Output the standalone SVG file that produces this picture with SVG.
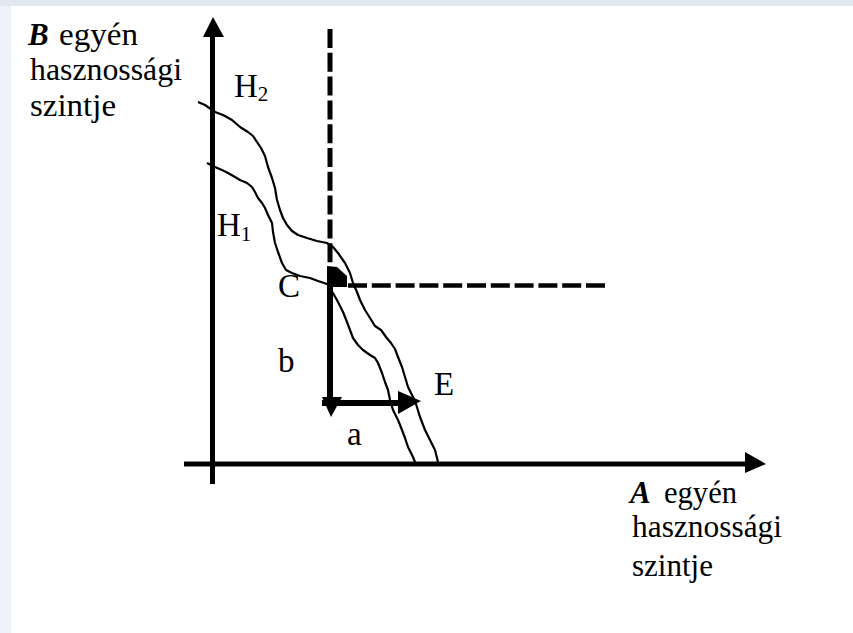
<svg xmlns="http://www.w3.org/2000/svg" width="853" height="633" viewBox="0 0 853 633">
<style>
.t{font-family:"Liberation Serif","Times New Roman",serif;font-size:31px;fill:#000}
.l{font-family:"Liberation Serif","Times New Roman",serif;font-size:33px;fill:#000}
.s{font-size:21px}
.bi{font-weight:bold;font-style:italic}
.ax{stroke:#000;stroke-width:5;fill:none}
.cv{stroke:#000;stroke-width:2.2;fill:none;stroke-linejoin:round}
.ds{stroke:#000;stroke-width:5;fill:none;stroke-dasharray:19 4.8}
.dh{stroke:#000;stroke-width:4.5;fill:none;stroke-dasharray:19 4.8}
.th{stroke:#000;stroke-width:6;fill:none}
.ah{fill:#000}
</style>
<rect x="0" y="0" width="853" height="633" fill="#eef2f8"/>
<rect x="0" y="0" width="853" height="6" fill="#e2e8f0"/>
<rect x="11" y="6" width="842" height="627" fill="#ffffff"/>

<g id="connectors">
  <line class="ax" x1="212.5" y1="484" x2="212.5" y2="34"/>
  <polygon class="ah" points="213,17 224,37 203,37"/>
  <line class="ax" x1="184" y1="464" x2="747" y2="464"/>
  <polygon class="ah" points="745,452 766,464 745,473"/>
  <line class="ds" x1="330" y1="29" x2="330" y2="268"/>
  <line class="dh" x1="348" y1="285.5" x2="608" y2="285.5"/>
  <line class="th" x1="330" y1="285" x2="330" y2="400"/>
  <polygon class="ah" points="327,266 337,267 347,276 347,287 327,287"/>
  <polygon class="ah" points="322,397 342,397 331,417"/>
  <line class="th" x1="322" y1="403" x2="400" y2="403"/>
  <polygon class="ah" points="398,391 421,401 398,414"/>
</g>

<g id="H2">
  <polyline class="cv" points="198,102 205,105 215,112 223,115 232,120 240,127 248,132 253,136 257,142 261,148 265,156 268,167 272,178 275,188 277,200 280,210 283,218 287,225 292,231 298,235 307,238 317,241 327,243 333,247 338,253 345,263 350,273 353,283 357,292 360,300 365,310 370,318 375,326 381,330 386,337 391,343 395,349 398,357 402,367 405,377 408,387 412,395 416,404 420,417 425,430 430,440 435,450 438,462"/>
  <text class="l" x="234" y="97">H<tspan class="s" dy="4">2</tspan></text>
</g>

<g id="H1">
  <polyline class="cv" points="207,163 215,167 222,170 228,173 235,177 240,180 247,183 252,187 255,192 258,198 262,203 265,208 268,215 272,223 273,232 275,243 278,252 282,263 286,270 292,273 300,276 310,278 318,281 327,284 333,293 338,302 343,312 347,322 350,330 353,338 358,345 363,350 370,355 375,358 378,363 382,373 385,382 388,390 390,400 393,410 398,420 402,430 405,438 408,447 413,457 415,462"/>
  <text class="l" x="217" y="236">H<tspan class="s" dy="5">1</tspan></text>
</g>

<g id="C"><text class="l" x="278" y="297">C</text></g>
<g id="b"><text class="l" x="278" y="372">b</text></g>
<g id="E"><text class="l" x="434" y="395">E</text></g>
<g id="a"><text class="l" x="347" y="445">a</text></g>

<g id="B-label">
  <text class="t" x="28" y="45"><tspan class="bi">B</tspan><tspan x="59" textLength="79" lengthAdjust="spacingAndGlyphs">egyén</tspan></text>
  <text class="t" x="30" y="80" textLength="152" lengthAdjust="spacingAndGlyphs">hasznossági</text>
  <text class="t" x="30" y="116" textLength="86" lengthAdjust="spacingAndGlyphs">szintje</text>
</g>

<g id="A-label">
  <text class="t" x="630" y="503"><tspan class="bi">A</tspan><tspan x="664" textLength="73" lengthAdjust="spacingAndGlyphs">egyén</tspan></text>
  <text class="t" x="632" y="537" textLength="150" lengthAdjust="spacingAndGlyphs">hasznossági</text>
  <text class="t" x="632" y="576" textLength="81" lengthAdjust="spacingAndGlyphs">szintje</text>
</g>
</svg>
